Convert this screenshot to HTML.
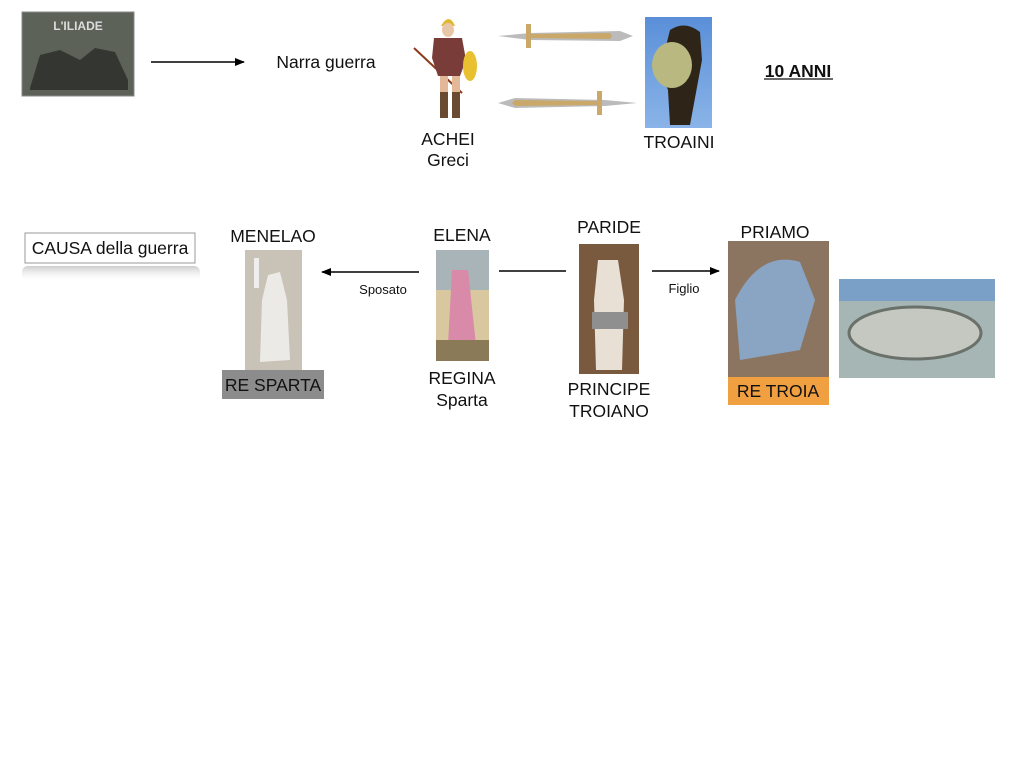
<!DOCTYPE html>
<html><head><meta charset="utf-8"><style>
*{margin:0;padding:0;box-sizing:border-box}
body{width:1024px;height:768px;background:#fff;position:relative;overflow:hidden;font-family:"Liberation Sans",Arial,sans-serif;color:#111}
.a{position:absolute}
.t{position:absolute;font-size:17.5px;line-height:22px;text-align:center;white-space:nowrap;transform:translate(-50%,-50%)}
</style></head><body>
<svg class="a" style="left:0;top:0" width="1024" height="768">
<defs><marker id="ah" markerWidth="10" markerHeight="8" refX="9" refY="4" orient="auto" markerUnits="userSpaceOnUse"><path d="M0,0L10,4L0,8z" fill="#000"/></marker>
<linearGradient id="sk" x1="0" y1="0" x2="0" y2="1"><stop offset="0" stop-color="#5a8fd8"/><stop offset="1" stop-color="#8ab4e8"/></linearGradient>
<linearGradient id="sh" x1="0" y1="0" x2="0" y2="1"><stop offset="0" stop-color="#aaa" stop-opacity=".6"/><stop offset="1" stop-color="#fff" stop-opacity="0"/></linearGradient></defs>
<rect x="22" y="12" width="112" height="84" fill="#5c6257"/>
<rect x="22" y="12" width="112" height="84" fill="none" stroke="#888"/>
<text x="78" y="30" fill="#ddd" font-size="12" font-family="Liberation Sans" text-anchor="middle" font-weight="bold">L'ILIADE</text>
<path d="M30 88 L40 55 L60 50 L80 60 L95 48 L115 52 L128 80 L128 90 L30 90z" fill="#2a2d28" opacity=".8"/>
<line x1="151" y1="62" x2="244" y2="62" stroke="#000" stroke-width="1.5" marker-end="url(#ah)"/>
<line x1="414" y1="48" x2="462" y2="93" stroke="#8b3a1a" stroke-width="2"/>
<path d="M441 26 Q449 12 455 26 Z" fill="#e0b830"/>
<ellipse cx="448" cy="30" rx="6" ry="7" fill="#e8c7a8"/>
<path d="M434 38 L462 38 L466 60 L460 76 L438 76 L432 58z" fill="#7a3c38"/>
<ellipse cx="470" cy="66" rx="7" ry="15" fill="#e8c030"/>
<rect x="440" y="76" width="8" height="32" fill="#e2b898"/><rect x="452" y="76" width="8" height="32" fill="#e2b898"/>
<rect x="440" y="92" width="8" height="26" fill="#6a4a30"/><rect x="452" y="92" width="8" height="26" fill="#6a4a30"/>
<path d="M498 36 L530 33 L620 31 L633 36 L620 41 L530 40z" fill="#bbb"/>
<path d="M528 34 L610 33 L612 36 L610 39 L528 38z" fill="#c9a86a"/>
<rect x="526" y="24" width="5" height="24" fill="#c9a86a"/>
<path d="M637 103 L605 100 L515 98 L498 103 L515 108 L605 106z" fill="#bbb"/>
<path d="M597 101 L515 100 L512 103 L515 106 L597 105z" fill="#c9a86a"/>
<rect x="597" y="91" width="5" height="24" fill="#c9a86a"/>
<rect x="645" y="17" width="67" height="111" fill="url(#sk)"/>
<path d="M670 30 Q685 20 700 32 L702 60 L690 125 L670 125 L668 90 L660 70z" fill="#2e2418"/>
<ellipse cx="672" cy="65" rx="20" ry="23" fill="#b8b880"/>
<text x="798" y="77" font-size="17.5" font-weight="bold" text-anchor="middle" font-family="Liberation Sans" fill="#111">10 ANNI</text>
<line x1="764" y1="79" x2="833" y2="79" stroke="#111" stroke-width="1.3"/>
<rect x="22" y="266" width="178" height="16" fill="url(#sh)" rx="6"/>
<rect x="25" y="233" width="170" height="30" fill="#fff" stroke="#999"/>
<rect x="245" y="250" width="57" height="120" fill="#c9c2b6"/>
<path d="M262 300 L268 275 L280 272 L287 300 L290 360 L260 362z" fill="#eceae6"/>
<rect x="254" y="258" width="5" height="30" fill="#eee"/>
<rect x="222" y="370" width="102" height="29" fill="#8c8c8c"/>
<line x1="419" y1="272" x2="322" y2="272" stroke="#000" stroke-width="1.5" marker-end="url(#ah)"/>
<rect x="436" y="250" width="53" height="111" fill="#d9c7a0"/>
<rect x="436" y="250" width="53" height="40" fill="#a8b4b8"/>
<path d="M452 270 L468 270 L476 345 L448 345z" fill="#d88aa8"/>
<rect x="436" y="340" width="53" height="21" fill="#8a7a58"/>
<line x1="499" y1="271" x2="566" y2="271" stroke="#000" stroke-width="1.5"/>
<rect x="579" y="244" width="60" height="130" fill="#7a5a3e"/>
<path d="M598 260 L618 260 L624 300 L622 370 L596 370 L594 300z" fill="#e8e0d4"/>
<rect x="592" y="312" width="36" height="17" fill="#8f8f8f"/>
<line x1="652" y1="271" x2="719" y2="271" stroke="#000" stroke-width="1.5" marker-end="url(#ah)"/>
<rect x="728" y="241" width="101" height="136" fill="#8c7560"/>
<path d="M735 300 Q760 250 800 262 L815 300 L800 350 L740 360z" fill="#8aa4c4"/>
<rect x="728" y="377" width="101" height="28" fill="#f0a040"/>
<rect x="839" y="279" width="156" height="99" fill="#a6b6b4"/>
<rect x="839" y="279" width="156" height="22" fill="#7aa0c8"/>
<ellipse cx="915" cy="333" rx="66" ry="26" fill="#c4c8c0" stroke="#6a706a" stroke-width="3"/>
</svg>
<div class="t" style="left:326px;top:62px">Narra guerra</div>
<div class="t" style="left:448px;top:139px">ACHEI</div>
<div class="t" style="left:448px;top:160px">Greci</div>
<div class="t" style="left:679px;top:142px">TROAINI</div>
<div class="t" style="left:110px;top:248px">CAUSA della guerra</div>
<div class="t" style="left:273px;top:236px">MENELAO</div>
<div class="t" style="left:273px;top:385px">RE SPARTA</div>
<div class="t" style="left:383px;top:290px;font-size:13px">Sposato</div>
<div class="t" style="left:462px;top:235px">ELENA</div>
<div class="t" style="left:462px;top:378px">REGINA</div>
<div class="t" style="left:462px;top:400px">Sparta</div>
<div class="t" style="left:609px;top:227px">PARIDE</div>
<div class="t" style="left:609px;top:389px">PRINCIPE</div>
<div class="t" style="left:609px;top:411px">TROIANO</div>
<div class="t" style="left:684px;top:289px;font-size:13px">Figlio</div>
<div class="t" style="left:775px;top:232px">PRIAMO</div>
<div class="t" style="left:778px;top:391px">RE TROIA</div>
</body></html>
